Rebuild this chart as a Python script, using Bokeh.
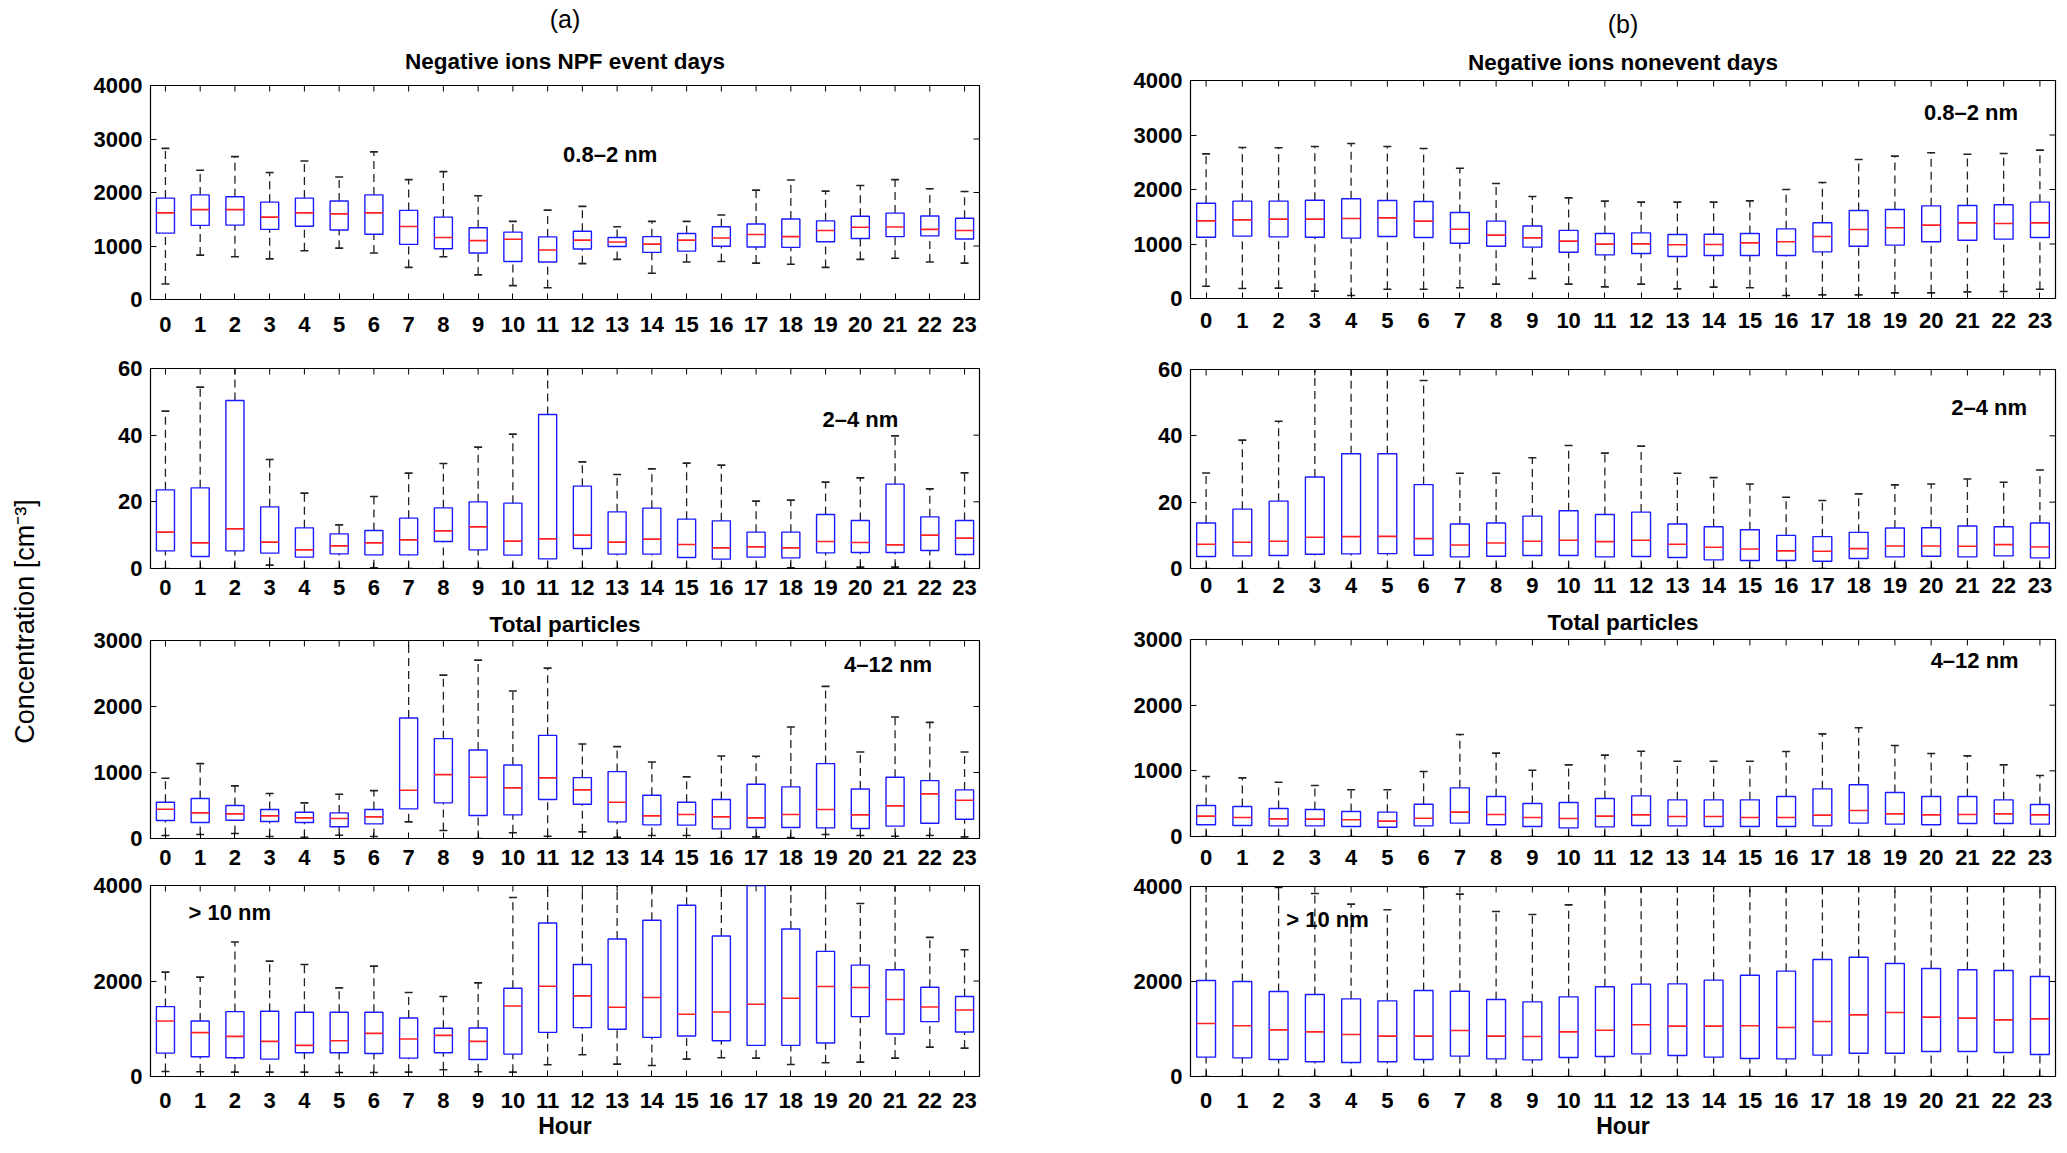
from math import pi

from bokeh.core.properties import value
from bokeh.embed import file_html
from bokeh.layouts import column, row
from bokeh.models import FixedTicker, Range1d, Title
from bokeh.plotting import figure
from bokeh.resources import INLINE

FONT = "Liberation Sans"
hours = list(range(24))

# ---- (a) negative ions NPF event days, 0.8-2 nm
ev08_lo = [290, 830, 800, 760, 910, 960, 870, 600, 800, 460, 260, 220, 670, 750, 490, 700, 710, 680, 660, 600, 750, 770, 700, 680]
ev08_q1 = [1240, 1385, 1390, 1310, 1370, 1300, 1220, 1030, 950, 870, 710, 700, 945, 990, 880, 905, 995, 980, 975, 1080, 1140, 1175, 1190, 1130]
ev08_med = [1620, 1680, 1680, 1540, 1620, 1600, 1620, 1365, 1160, 1100, 1125, 925, 1110, 1075, 1035, 1110, 1150, 1215, 1175, 1290, 1350, 1355, 1310, 1290]
ev08_q3 = [1895, 1955, 1920, 1820, 1895, 1840, 1955, 1665, 1540, 1340, 1260, 1170, 1275, 1160, 1175, 1235, 1360, 1410, 1505, 1470, 1555, 1615, 1560, 1520]
ev08_hi = [2825, 2415, 2670, 2375, 2590, 2290, 2760, 2240, 2390, 1940, 1460, 1670, 1740, 1360, 1460, 1460, 1580, 2045, 2235, 2025, 2130, 2240, 2070, 2020]

# ---- (a) 2-4 nm
ev24_lo = [0, 0, 0, 1.0, 0, 0, 0.2, 0, 0, 0, 0, 0, 0, 0, 0, 0, 0, 0, 0.2, 0, 0.4, 0.4, 0, 0]
ev24_q1 = [5.3, 3.6, 5.3, 4.6, 3.4, 4.4, 4.1, 4.1, 8.1, 5.6, 4.0, 2.9, 6.0, 4.3, 4.3, 3.3, 2.8, 3.4, 3.2, 4.7, 4.8, 4.8, 5.4, 4.2]
ev24_med = [10.9, 7.7, 11.9, 7.9, 5.6, 6.8, 7.7, 8.6, 11.3, 12.5, 8.2, 8.9, 10.0, 7.9, 8.8, 7.2, 6.2, 6.5, 6.2, 8.1, 7.8, 7.1, 10.0, 9.1]
ev24_q3 = [23.6, 24.2, 50.4, 18.5, 12.2, 10.4, 11.4, 15.1, 18.2, 20.0, 19.6, 46.2, 24.7, 17.0, 18.1, 14.8, 14.3, 10.9, 10.9, 16.2, 14.4, 25.3, 15.5, 14.4]
ev24_hi = [47.2, 54.4, 65, 32.7, 22.6, 13.1, 21.6, 28.6, 31.5, 36.4, 40.3, 65, 32.0, 28.2, 29.9, 31.6, 31.0, 20.2, 20.5, 25.9, 27.2, 39.8, 23.9, 28.7]

# ---- (a) total particles 4-12 nm
ev412_lo = [45, 60, 76, 30, 20, 50, 30, 252, 121, 0, 86, 35, 101, 20, 45, 45, 0, 25, 15, 60, 45, 35, 45, 25]
ev412_q1 = [272, 242, 277, 257, 242, 177, 222, 449, 540, 348, 358, 590, 519, 252, 207, 202, 146, 166, 166, 161, 151, 187, 232, 292]
ev412_med = [444, 388, 373, 343, 313, 303, 328, 731, 968, 928, 767, 918, 736, 550, 343, 363, 328, 313, 363, 439, 358, 494, 676, 580]
ev412_q3 = [550, 605, 499, 439, 398, 388, 439, 1826, 1513, 1341, 1114, 1563, 923, 1014, 656, 550, 590, 822, 782, 1135, 751, 928, 877, 736]
ev412_hi = [913, 1135, 797, 681, 540, 671, 726, 3300, 2476, 2703, 2234, 2582, 1432, 1392, 1160, 933, 1251, 1246, 1689, 2305, 1311, 1841, 1760, 1311]

# ---- (a) total particles > 10 nm
ev10_lo = [105, 98, 91, 91, 91, 84, 84, 91, 140, 98, 91, 245, 455, 259, 231, 364, 392, 385, 252, 287, 301, 385, 616, 595]
ev10_q1 = [490, 413, 392, 364, 497, 497, 483, 385, 497, 357, 469, 925, 1023, 988, 820, 848, 750, 651, 651, 701, 1254, 890, 1149, 932]
ev10_med = [1163, 918, 841, 736, 651, 750, 904, 785, 862, 736, 1478, 1891, 1688, 1450, 1653, 1303, 1352, 1513, 1639, 1884, 1863, 1611, 1457, 1394]
ev10_q3 = [1464, 1163, 1359, 1366, 1345, 1345, 1345, 1226, 1009, 1016, 1849, 3215, 2347, 2879, 3271, 3587, 2942, 4300, 3089, 2620, 2333, 2235, 1870, 1674]
ev10_hi = [2186, 2081, 2816, 2417, 2347, 1856, 2312, 1758, 1674, 1961, 3748, 4600, 4600, 4600, 4600, 4600, 4600, 4600, 4600, 4600, 3622, 4600, 2914, 2655]

# ---- (b) negative ions nonevent days, 0.8-2 nm
ne08_lo = [226, 183, 190, 135, 55, 171, 171, 196, 263, 367, 263, 214, 263, 177, 208, 196, 55, 67, 67, 104, 104, 122, 128, 171]
ne08_q1 = [1125, 1144, 1131, 1125, 1107, 1138, 1119, 1015, 960, 942, 850, 801, 826, 771, 789, 789, 789, 856, 960, 979, 1040, 1070, 1089, 1119]
ne08_med = [1425, 1443, 1456, 1456, 1468, 1480, 1419, 1272, 1162, 1113, 1052, 997, 1003, 985, 991, 1021, 1040, 1138, 1266, 1297, 1346, 1388, 1376, 1388]
ne08_q3 = [1749, 1786, 1786, 1804, 1829, 1798, 1780, 1578, 1420, 1330, 1250, 1193, 1205, 1174, 1180, 1193, 1278, 1390, 1615, 1633, 1700, 1706, 1719, 1768]
ne08_hi = [2654, 2771, 2765, 2789, 2844, 2789, 2752, 2391, 2110, 1872, 1847, 1786, 1768, 1768, 1768, 1792, 2000, 2128, 2550, 2612, 2673, 2648, 2661, 2722]

# ---- (b) 2-4 nm
ne24_lo = [0] * 24
ne24_q1 = [3.6, 3.8, 3.9, 4.3, 4.4, 4.5, 4.0, 3.5, 3.7, 3.9, 3.9, 3.5, 3.6, 3.3, 2.6, 2.4, 2.4, 2.2, 3.0, 3.5, 3.7, 3.5, 3.8, 3.2]
ne24_med = [7.3, 7.9, 8.2, 9.4, 9.6, 9.7, 9.0, 7.1, 7.7, 8.2, 8.5, 8.1, 8.5, 7.3, 6.4, 5.9, 5.3, 5.2, 6.0, 6.8, 6.8, 6.7, 7.2, 6.5]
ne24_q3 = [13.7, 17.9, 20.3, 27.6, 34.6, 34.6, 25.3, 13.4, 13.7, 15.8, 17.4, 16.3, 17.0, 13.4, 12.6, 11.7, 10.0, 9.6, 10.9, 12.2, 12.3, 12.8, 12.6, 13.7]
ne24_hi = [28.8, 38.7, 44.4, 65, 65, 65, 56.7, 28.7, 28.7, 33.4, 37.1, 34.8, 36.9, 28.7, 27.4, 25.5, 21.5, 20.5, 22.5, 25.2, 25.5, 27.0, 26.0, 29.7]

# ---- (b) total particles 4-12 nm
ne412_lo = [0] * 24
ne412_q1 = [178, 168, 162, 162, 152, 142, 162, 203, 178, 152, 132, 147, 168, 162, 152, 152, 152, 162, 203, 188, 178, 198, 198, 188]
ne412_med = [310, 289, 269, 264, 254, 234, 279, 371, 335, 289, 274, 310, 330, 305, 305, 289, 289, 325, 396, 345, 330, 335, 345, 330]
ne412_q3 = [472, 457, 426, 411, 381, 371, 492, 741, 609, 503, 518, 579, 619, 558, 558, 558, 609, 726, 787, 670, 609, 609, 558, 487]
ne412_hi = [914, 893, 827, 777, 711, 711, 990, 1553, 1269, 1010, 1091, 1239, 1299, 1147, 1147, 1147, 1294, 1563, 1655, 1386, 1264, 1228, 1091, 929]

# ---- (b) total particles > 10 nm
ne10_lo = [0] * 24
ne10_q1 = [407, 393, 358, 309, 295, 309, 358, 428, 372, 351, 400, 421, 477, 442, 407, 379, 372, 449, 491, 491, 526, 526, 505, 463]
ne10_med = [1116, 1067, 982, 940, 884, 849, 849, 968, 849, 842, 940, 975, 1088, 1060, 1060, 1067, 1032, 1158, 1298, 1347, 1249, 1228, 1193, 1214]
ne10_q3 = [2021, 2000, 1789, 1726, 1635, 1593, 1811, 1796, 1621, 1572, 1677, 1888, 1944, 1951, 2028, 2133, 2218, 2463, 2512, 2379, 2274, 2246, 2232, 2105]
ne10_hi = [4600, 4600, 3979, 3853, 3628, 3509, 3993, 3839, 3474, 3411, 3614, 4600, 4600, 4600, 4600, 4600, 4600, 4600, 4600, 4600, 4600, 4600, 4600, 4600]

X_LO, X_HI = -0.43, 23.43


def style_axis(ax, ticks, standoff):
    ax.ticker = FixedTicker(ticks=ticks)
    ax.major_tick_in = 6
    ax.major_tick_out = 0
    ax.minor_tick_line_color = None
    ax.axis_line_color = "black"
    ax.major_tick_line_color = "black"
    ax.major_label_text_font = FONT
    ax.major_label_text_font_size = "22px"
    ax.major_label_text_font_style = "bold"
    ax.major_label_text_color = "black"
    ax.major_label_standoff = standoff


def make_panel(lo, q1, med, q3, hi, y_top, y_ticks, size_label, lx, ly,
               frame_w, frame_h, border, x_standoff, titles=(), x_label=None):
    top_b, right_b, bottom_b, left_b = border
    p = figure(frame_width=frame_w, frame_height=frame_h,
               x_range=Range1d(X_LO, X_HI), y_range=Range1d(0, y_top),
               min_border_top=top_b, min_border_right=right_b,
               min_border_bottom=bottom_b, min_border_left=left_b,
               output_backend="svg", toolbar_location=None, tools="")
    p.grid.visible = False
    p.outline_line_color = "black"
    p.outline_line_width = 1.2

    # dashed whiskers with short caps
    p.segment(x0=hours, y0=q3, x1=hours, y1=hi, line_color="#222222",
              line_width=1.3, line_dash="8 5")
    p.segment(x0=hours, y0=lo, x1=hours, y1=q1, line_color="#222222",
              line_width=1.3, line_dash="8 5")
    p.scatter(x=hours, y=hi, marker="dash", size=8, line_color="#222222", line_width=1.6)
    p.scatter(x=hours, y=lo, marker="dash", size=8, line_color="#222222", line_width=1.6)

    # boxes and medians
    p.vbar(x=hours, bottom=q1, top=q3, width=0.52, fill_color=None,
           line_color="#1a1aff", line_width=1.4)
    p.segment(x0=[h - 0.26 for h in hours], y0=med, x1=[h + 0.26 for h in hours], y1=med,
              line_color="#ff2222", line_width=1.6)

    # inward tick marks on the top and right edges (half of each dash is clipped)
    p.scatter(x=hours, y=[y_top] * len(hours), marker="dash", angle=pi / 2, size=12,
              line_color="black", line_width=1)
    p.scatter(x=[X_HI] * len(y_ticks), y=y_ticks, marker="dash", size=12,
              line_color="black", line_width=1)

    p.text(x=[lx], y=[ly], text=[size_label], text_font=value(FONT),
           text_font_size="22px", text_font_style="bold", text_color="black",
           text_align="center", text_baseline="middle")

    style_axis(p.xaxis[0], hours, x_standoff)
    style_axis(p.yaxis[0], y_ticks, 8)
    if x_label:
        p.xaxis.axis_label = x_label
        p.xaxis.axis_label_text_font = FONT
        p.xaxis.axis_label_text_font_size = "23px"
        p.xaxis.axis_label_text_font_style = "bold"
        p.xaxis.axis_label_text_color = "black"
        p.xaxis.axis_label_standoff = 2

    # first title sits nearest the frame
    for text, size, style, standoff in titles:
        p.add_layout(Title(text=text, align="center", text_font=FONT,
                           text_font_size=size, text_font_style=style,
                           text_color="black", standoff=standoff), "above")
    return p


LW, RW = 829, 865
LB = (98, 109)   # left / right borders of the left column
RB = (102, 10)

a1 = make_panel(ev08_lo, ev08_q1, ev08_med, ev08_q3, ev08_hi, 4000, [0, 1000, 2000, 3000, 4000],
                "0.8\u20132 nm", 12.8, 2710, LW, 214, (85, LB[1], 50, LB[0]), 17,
                titles=[("Negative ions NPF event days", "22.5px", "bold", 23),
                        ("(a)", "25px", "normal", 5)])
a2 = make_panel(ev24_lo, ev24_q1, ev24_med, ev24_q3, ev24_hi, 60, [0, 20, 40, 60],
                "2\u20134 nm", 20.0, 44.7, LW, 200, (19, LB[1], 36, LB[0]), 11)
a3 = make_panel(ev412_lo, ev412_q1, ev412_med, ev412_q3, ev412_hi, 3000, [0, 1000, 2000, 3000],
                "4\u201312 nm", 20.8, 2640, LW, 198, (36, LB[1], 36, LB[0]), 11,
                titles=[("Total particles", "22.5px", "bold", 7)])
a4 = make_panel(ev10_lo, ev10_q1, ev10_med, ev10_q3, ev10_hi, 4000, [0, 2000, 4000],
                "> 10 nm", 1.85, 3435, LW, 191, (11, LB[1], 70, LB[0]), 16, x_label="Hour")

b1 = make_panel(ne08_lo, ne08_q1, ne08_med, ne08_q3, ne08_hi, 4000, [0, 1000, 2000, 3000, 4000],
                "0.8\u20132 nm", 21.1, 3410, RW, 218, (80, RB[1], 50, RB[0]), 14,
                titles=[("Negative ions nonevent days", "22.5px", "bold", 12),
                        ("(b)", "25px", "normal", 8)])
b2 = make_panel(ne24_lo, ne24_q1, ne24_med, ne24_q3, ne24_hi, 60, [0, 20, 40, 60],
                "2\u20134 nm", 21.6, 48.5, RW, 199, (21, RB[1], 34, RB[0]), 9)
b3 = make_panel(ne412_lo, ne412_q1, ne412_med, ne412_q3, ne412_hi, 3000, [0, 1000, 2000, 3000],
                "4\u201312 nm", 21.2, 2680, RW, 197, (37, RB[1], 38, RB[0]), 13,
                titles=[("Total particles", "22.5px", "bold", 9)])
b4 = make_panel(ne10_lo, ne10_q1, ne10_med, ne10_q3, ne10_hi, 4000, [0, 2000, 4000],
                "> 10 nm", 3.35, 3305, RW, 190, (12, RB[1], 70, RB[0]), 16, x_label="Hour")

# shared y label in its own narrow strip
ylab = figure(width=52, height=1146, x_range=Range1d(0, 52), y_range=Range1d(0, 1146),
              min_border=0, output_backend="svg", toolbar_location=None, tools="")
ylab.axis.visible = False
ylab.grid.visible = False
ylab.outline_line_color = None
ylab.text(x=[24], y=[525], text=["Concentration [cm\u207b\u00b3]"], angle=pi / 2,
          text_font=value(FONT), text_font_size="27px", text_color="black",
          text_align="center", text_baseline="middle")

p = row(ylab, column(a1, a2, a3, a4), column(b1, b2, b3, b4))

open("out.html", "w").write(file_html(p, INLINE))
